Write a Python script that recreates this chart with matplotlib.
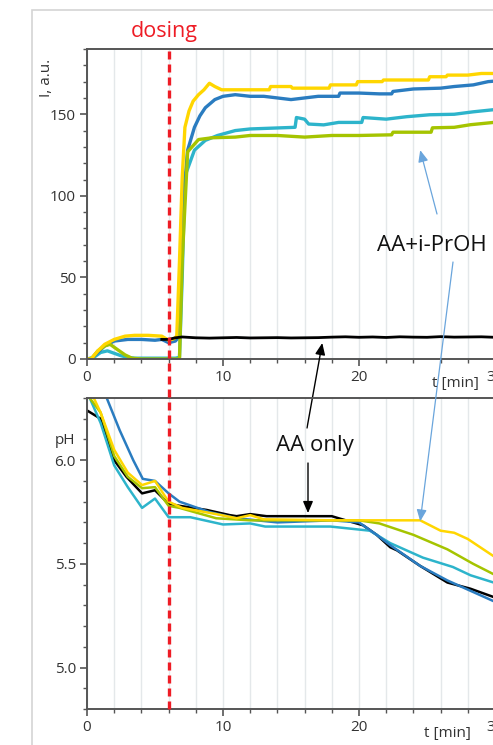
import matplotlib.pyplot as plt
import matplotlib.transforms as mtransforms
from matplotlib.lines import Line2D
from matplotlib.patches import Rectangle
from matplotlib.ticker import MultipleLocator, FormatStrFormatter

plt.rcParams['font.family'] = ['Open Sans', 'DejaVu Sans']

# ---- top panel: intensity I, a.u. vs t [min]
t_yellow = [0, 0.3, 0.8, 1.3, 2.0, 2.8, 3.5, 4.5, 5.5, 6.0, 6.4, 6.6, 6.8, 7.0, 7.2, 7.5, 7.8, 8.2,
            8.6, 9.0, 9.4, 9.9, 11, 13.4, 13.5, 15, 15.1, 17.8, 17.9, 19.8, 19.9, 21.7, 21.8, 25.1,
            25.2, 26.4, 26.5, 28, 29, 31]
I_yellow = [0, 0, 5, 9, 12, 14, 14.5, 14.5, 14, 11.5, 12.5, 14, 60, 111, 142, 152, 158, 162,
            165, 169, 167, 165, 165, 165, 167, 167, 166, 166, 168, 168, 170, 170, 171, 171,
            173, 173, 174, 174, 175, 175]

t_blue = [0, 0.3, 0.8, 1.3, 2, 3, 4, 5, 5.5, 6.0, 6.5, 6.8, 7.0, 7.4, 7.9, 8.3, 8.7, 9.4, 10, 10.9,
          12, 13, 14, 15, 16, 17, 18.5, 18.6, 20, 21.5, 22.4, 22.5, 24, 26, 27, 28.4, 29.5, 31]
I_blue = [0, 0, 4, 8, 11, 12, 12, 11.5, 12, 10, 11, 14, 90, 128, 142, 149, 154, 159, 161, 162,
          161, 161, 160, 159, 160, 161, 161, 163, 163, 162.5, 162.5, 164, 165.5, 166, 167, 168,
          170, 171]

t_cyan = [0, 0.5, 1.0, 1.5, 2.0, 2.5, 3.0, 3.5, 5, 6.5, 6.8, 7.0, 7.2, 7.9, 8.7, 9.6, 10.9, 12,
          15.3, 15.4, 16, 16.3, 17.4, 18.5, 20.2, 20.3, 22, 23.5, 25.2, 27, 28.4, 29.9, 31]
I_cyan = [0, 1, 4, 5, 3.5, 2, 1, 0.5, 0.5, 0.5, 1, 50, 112, 128, 134, 137, 140, 141,
          142, 148, 147, 144, 143.5, 145, 145, 148, 147, 148.5, 149.7, 150, 151.5, 152.8, 153]

t_green = [0, 0.3, 0.8, 1.3, 1.7, 2.2, 2.8, 3.3, 4, 6.8, 7.0, 7.4, 8.2, 9.2, 10.9, 12, 14, 16, 18,
           20, 22.4, 22.5, 25.3, 25.4, 27, 28.2, 29.9, 31]
I_green = [0, 0, 5, 8, 9, 6, 2.5, 0.5, 0, 0, 60, 127, 134.5, 135.6, 136, 137, 137, 136, 137,
           137, 137.4, 139, 139, 141.7, 142, 143.6, 145, 145]

t_black = [5.5, 6.0, 6.5, 7, 8, 9, 10, 11, 12, 13, 14, 15, 16, 17, 18, 19, 20, 21, 22, 23, 24, 25,
           26, 27, 28, 29, 30, 31]
I_black = [12, 12, 13, 13.5, 13, 12.8, 13, 13.2, 12.9, 13, 13.1, 12.9, 13, 13.1, 13.4, 13.6, 13.3,
           13.5, 13.2, 13.6, 13.4, 13.3, 13.7, 13.4, 13.5, 13.6, 13.3, 13.5]

# ---- bottom panel: pH vs t [min]
t_black_ph = [0, 1, 2, 2.9, 4.05, 5, 6, 6.8, 8.8, 10.5, 11, 12, 13.2, 18, 18.5, 20.3, 21.3, 22.3,
              22.8, 24.5, 26.5, 28.2, 29.9, 31]
ph_black = [6.24, 6.20, 6.0, 5.92, 5.84, 5.855, 5.79, 5.78, 5.76, 5.735, 5.73, 5.74, 5.73, 5.73,
            5.72, 5.686, 5.64, 5.58, 5.565, 5.49, 5.41, 5.38, 5.34, 5.31]

t_blue_ph = [0, 1, 1.45, 2.4, 3.4, 4.1, 5, 6, 6.8, 9, 11, 14, 18, 20, 21.3, 22.3, 24.5, 26.5, 28.2,
             29.9, 31]
ph_blue = [6.45, 6.36, 6.3, 6.145, 6.0, 5.91, 5.90, 5.84, 5.80, 5.75, 5.72, 5.70, 5.71, 5.70, 5.64,
           5.59, 5.49, 5.42, 5.37, 5.32, 5.29]

t_cyan_ph = [0, 0.2, 1, 2, 3, 4.05, 5, 6, 7.6, 10, 12, 13.1, 17.9, 20.8, 22.3, 24.7, 26.9, 28.2,
             29.9, 31]
ph_cyan = [6.33, 6.3, 6.18, 5.975, 5.87, 5.77, 5.815, 5.725, 5.725, 5.69, 5.695, 5.68, 5.68, 5.66,
           5.60, 5.53, 5.485, 5.445, 5.41, 5.38]

t_green_ph = [0, 0.2, 1, 2, 3, 4.05, 5, 6, 6.8, 9.5, 12, 16, 20, 21.5, 24, 26.5, 28.4, 29.9, 31]
ph_green = [6.33, 6.3, 6.23, 6.02, 5.92, 5.865, 5.87, 5.78, 5.77, 5.72, 5.71, 5.71, 5.71, 5.695,
            5.64, 5.57, 5.50, 5.45, 5.42]

t_yellow_ph = [0, 0.5, 1, 2, 3, 4.05, 5, 6, 7, 9.5, 11, 12, 13, 18, 24.5, 26, 27, 28, 29.6, 31]
ph_yellow = [6.35, 6.3, 6.23, 6.05, 5.94, 5.88, 5.90, 5.80, 5.77, 5.74, 5.72, 5.735, 5.715, 5.71,
             5.71, 5.66, 5.65, 5.62, 5.55, 5.49]

dosing_t = 6.0

YELLOW = '#ffd600'
BLUE = '#2a7cc0'
CYAN = '#2db4cb'
GREEN = '#a5c400'
BLACK = '#000000'
ARROW_BLUE = '#6aa5dc'

W, H = 493, 745
fig = plt.figure(figsize=(W / 100, H / 100), dpi=100)

# light frame round the figure content
fig.add_artist(Rectangle((32 / W, -0.05), 1.2, 1 - 10 / H + 0.05, transform=fig.transFigure,
                         fill=False, edgecolor='#d4d4d4', linewidth=1.2))

px_per_min = 13.6
xmax = 31
ax_w = xmax * px_per_min / W
ax1 = fig.add_axes([87 / W, 1 - 359 / H, ax_w, (359 - 49) / H])
ax2 = fig.add_axes([87 / W, 1 - 709 / H, ax_w, (709 - 398) / H])


def style(ax):
    ax.patch.set_alpha(0)
    ax.set_xlim(0, xmax)
    ax.xaxis.set_major_locator(MultipleLocator(10))
    ax.xaxis.set_minor_locator(MultipleLocator(2))
    ax.grid(True, which='both', axis='x', color='#e4e8ea', linewidth=1.0)
    ax.set_axisbelow(True)
    for s in ['left', 'bottom', 'top']:
        ax.spines[s].set_color('#555555')
        ax.spines[s].set_linewidth(1.4)
    ax.spines['right'].set_visible(False)
    ax.tick_params(which='major', length=5, width=1.2, color='#555555', labelsize=11,
                   labelcolor='#333333', pad=3)
    ax.tick_params(which='minor', length=3, width=1.0, color='#555555')


style(ax1)
style(ax2)

ax1.plot(t_cyan, I_cyan, color=CYAN, lw=2.4)
ax1.plot(t_blue, I_blue, color=BLUE, lw=2.4)
ax1.plot(t_green, I_green, color=GREEN, lw=2.4)
ax1.plot(t_yellow, I_yellow, color=YELLOW, lw=2.4)
ax1.plot(t_black, I_black, color=BLACK, lw=2.0)
ax1.set_ylim(0, 190)
ax1.yaxis.set_major_locator(MultipleLocator(50))
ax1.yaxis.set_minor_locator(MultipleLocator(10))

ax2.plot(t_black_ph, ph_black, color=BLACK, lw=1.8)
ax2.plot(t_cyan_ph, ph_cyan, color=CYAN, lw=1.8)
ax2.plot(t_blue_ph, ph_blue, color=BLUE, lw=1.8)
ax2.plot(t_green_ph, ph_green, color=GREEN, lw=1.8)
ax2.plot(t_yellow_ph, ph_yellow, color=YELLOW, lw=1.8)
ax2.set_ylim(4.8, 6.3)
ax2.yaxis.set_major_locator(MultipleLocator(0.5))
ax2.yaxis.set_minor_locator(MultipleLocator(0.1))
ax2.yaxis.set_major_formatter(FormatStrFormatter('%.1f'))

# axis labels
fig.text(47 / W, 1 - 78 / H, 'I, a.u.', rotation=90, ha='center', va='center', fontsize=11,
         color='#333333')
fig.text(65 / W, 1 - 441 / H, 'pH', ha='center', va='center', fontsize=11, color='#333333')
fig.text(455 / W, 1 - 383 / H, 't [min]', ha='center', va='center', fontsize=11, color='#333333')
fig.text(447 / W, 1 - 733 / H, 't [min]', ha='center', va='center', fontsize=11, color='#333333')

# dosing marker spanning both panels
trans = mtransforms.blended_transform_factory(ax1.transData, fig.transFigure)
fig.add_artist(Line2D([dosing_t, dosing_t], [1 - 709 / H, 1 - 49 / H], transform=trans,
                      color='#ee1c25', lw=2.4, dashes=(2.4, 1.5)))
fig.text(164 / W, 1 - 32 / H, 'dosing', ha='center', va='center', fontsize=15.5, color='#ee1c25')

# annotations
fig.text(432 / W, 1 - 245 / H, 'AA+i-PrOH', ha='center', va='center', fontsize=16, color='#111111')
fig.text(315 / W, 1 - 445 / H, 'AA only', ha='center', va='center', fontsize=16, color='#111111')

blue_arrow = dict(arrowstyle='-|>,head_length=0.7,head_width=0.3', color=ARROW_BLUE, lw=0.9,
                  shrinkA=0, shrinkB=0)
black_arrow = dict(arrowstyle='-|>,head_length=0.7,head_width=0.3', color='black', lw=1.0,
                   shrinkA=0, shrinkB=0)
ax1.annotate('', xy=(24.5, 128), xycoords='data', xytext=(437, H - 214),
             textcoords='figure pixels', arrowprops=blue_arrow, annotation_clip=False)
ax2.annotate('', xy=(24.5, 5.705), xycoords='data', xytext=(453, H - 262),
             textcoords='figure pixels', arrowprops=blue_arrow, annotation_clip=False)
ax1.annotate('', xy=(17.3, 9.8), xycoords='data', xytext=(307, H - 428),
             textcoords='figure pixels', arrowprops=black_arrow, annotation_clip=False)
ax2.annotate('', xy=(16.25, 5.745), xycoords='data', xytext=(308, H - 463),
             textcoords='figure pixels', arrowprops=black_arrow, annotation_clip=False)

fig.savefig('out.png', dpi=100)
